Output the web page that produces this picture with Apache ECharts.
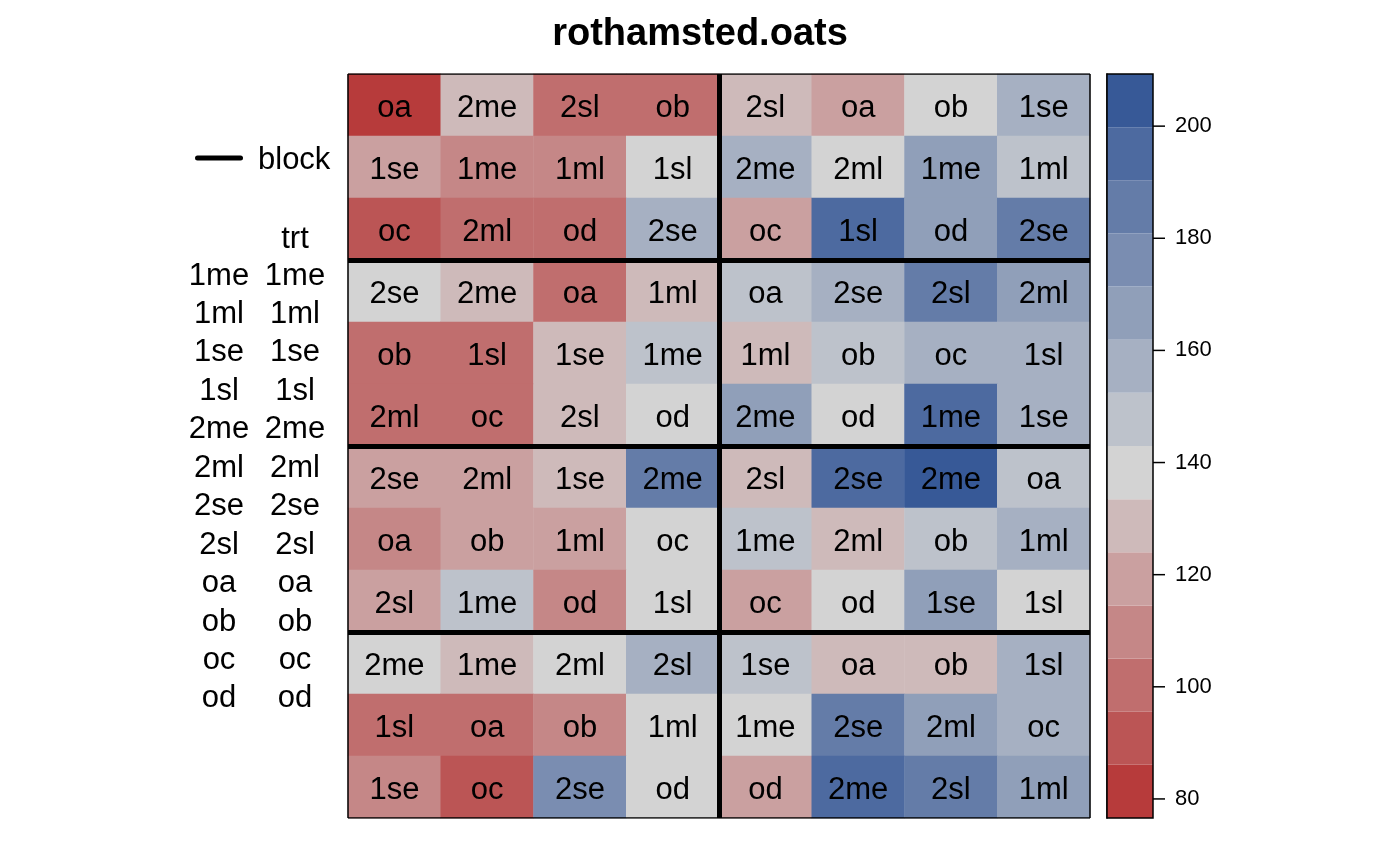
<!DOCTYPE html>
<html><head><meta charset="utf-8">
<script src="https://cdn.jsdelivr.net/npm/echarts@6/dist/echarts.min.js"></script>
<style>html,body{margin:0;padding:0;background:#fff}#c{width:1400px;height:866px}</style>
</head><body><div id="c"></div>
<script>
// ---------- data ----------
const colNames = ['1','2','3','4','5','6','7','8'];
const rowNames = ['1','2','3','4','5','6','7','8','9','10','11','12'];
const trtRows = [
  ['oa','2me','2sl','ob','2sl','oa','ob','1se'],
  ['1se','1me','1ml','1sl','2me','2ml','1me','1ml'],
  ['oc','2ml','od','2se','oc','1sl','od','2se'],
  ['2se','2me','oa','1ml','oa','2se','2sl','2ml'],
  ['ob','1sl','1se','1me','1ml','ob','oc','1sl'],
  ['2ml','oc','2sl','od','2me','od','1me','1se'],
  ['2se','2ml','1se','2me','2sl','2se','2me','oa'],
  ['oa','ob','1ml','oc','1me','2ml','ob','1ml'],
  ['2sl','1me','od','1sl','oc','od','1se','1sl'],
  ['2me','1me','2ml','2sl','1se','oa','ob','1sl'],
  ['1sl','oa','ob','1ml','1me','2se','2ml','oc'],
  ['1se','oc','2se','od','od','2me','2sl','1ml']
];
const yieldRows = [
  [78, 128, 101, 99, 130, 118, 139, 156],
  [120, 111, 108, 137, 158, 140, 167, 148],
  [90, 102, 100, 156, 121, 196, 166, 186],
  [138, 129, 100, 127, 149, 157, 185, 165],
  [101, 99, 128, 148, 130, 147, 157, 158],
  [100, 98, 129, 138, 167, 139, 194, 157],
  [119, 120, 128, 186, 129, 196, 208, 148],
  [110, 118, 121, 137, 148, 129, 147, 156],
  [120, 148, 109, 138, 119, 140, 166, 137],
  [139, 129, 138, 158, 147, 127, 128, 157],
  [101, 100, 111, 138, 139, 185, 167, 156],
  [110, 91, 176, 137, 120, 195, 186, 166]
];
const trtLevels = ['1me','1ml','1se','1sl','2me','2ml','2se','2sl','oa','ob','oc','od'];
const blockColBreaks = [4];
const blockRowBreaks = [3, 6, 9];
const keyMin = 76.6, keyMax = 209.3;
const keyTicks = [80, 100, 120, 140, 160, 180, 200];

// ---------- styles ----------
const bandColors = ['#B73B3B','#BB5555','#C06E6E','#C58787','#CAA0A0','#CEBABA','#D3D3D3',
                    '#BDC2CB','#A6B0C2','#909FB9','#7A8DB1','#647CA8','#4D6AA0','#375997'];
const FONT = '"Liberation Sans", Arial, Helvetica, sans-serif';

const nBands = bandColors.length;
const step = (keyMax - keyMin) / nBands;
const bands = bandColors.map((c, i) => [0, keyMin + i * step, keyMin + (i + 1) * step, i]);
const pieces = bands.map((b, i) => (i === nBands - 1 ? {gte: b[1], lte: b[2] + 1, color: bandColors[i]} : {gte: b[1], lt: b[2], color: bandColors[i]}));

const heatData = [];
trtRows.forEach((row, r) => row.forEach((t, c) => {
  heatData.push({name: t, value: [c, r, yieldRows[r][c]]});
}));

const nCols = colNames.length, nRows = rowNames.length;
const blockLines = [];
blockColBreaks.forEach(x => blockLines.push({coords: [[x, 0], [x, nRows]]}));
blockRowBreaks.forEach(y => blockLines.push({coords: [[0, y], [nCols, y]]}));
const borderLines = [
  {coords: [[0, 0], [nCols, 0]]}, {coords: [[0, nRows], [nCols, nRows]]},
  {coords: [[0, 0], [0, nRows]]}, {coords: [[nCols, 0], [nCols, nRows]]}
];

// legend graphics
const LY = 2;
const graphics = [
  {type: 'line', shape: {x1: 197.5, y1: 158, x2: 240.5, y2: 158}, style: {stroke: '#000', lineWidth: 5, lineCap: 'round'}},
  {type: 'text', style: {text: 'block', x: 258, y: 158 + LY, font: '31px ' + FONT, fill: '#000', textAlign: 'left', textVerticalAlign: 'middle'}},
  {type: 'text', style: {text: 'trt', x: 295, y: 237 + LY, font: '31px ' + FONT, fill: '#000', textAlign: 'center', textVerticalAlign: 'middle'}}
];
trtLevels.forEach((t, i) => {
  const y = 274 + LY + i * 38.45;
  graphics.push({type: 'text', style: {text: t, x: 219, y: y, font: '31px ' + FONT, fill: '#000', textAlign: 'center', textVerticalAlign: 'middle'}});
  graphics.push({type: 'text', style: {text: t, x: 295, y: y, font: '31px ' + FONT, fill: '#000', textAlign: 'center', textVerticalAlign: 'middle'}});
});

const chart = echarts.init(document.getElementById('c'), null, {renderer: 'canvas'});
chart.setOption({
  animation: false,
  backgroundColor: '#fff',
  title: {text: 'rothamsted.oats', left: 'center', top: 11,
          textStyle: {fontSize: 38, fontWeight: 'bold', color: '#000', fontFamily: FONT}},
  grid: [
    {left: 348, top: 74, width: 742, height: 744},
    {left: 1107, top: 74, width: 46, height: 744}
  ],
  xAxis: [
    {type: 'category', gridIndex: 0, data: colNames, show: false},
    {type: 'value', gridIndex: 0, min: 0, max: nCols, show: false},
    {type: 'value', gridIndex: 1, min: 0, max: 1, show: false}
  ],
  yAxis: [
    {type: 'category', gridIndex: 0, data: rowNames, inverse: true, show: false},
    {type: 'value', gridIndex: 0, min: 0, max: nRows, inverse: true, show: false},
    {type: 'value', gridIndex: 1, min: keyMin, max: keyMax, position: 'right',
     axisLine: {show: true, lineStyle: {color: '#000', width: 1.5}},
     axisTick: {show: false},
     axisLabel: {show: true, customValues: keyTicks, fontSize: 22, color: '#000', margin: 22, fontFamily: FONT},
     splitLine: {show: false}}
  ],
  visualMap: {type: 'piecewise', show: false, seriesIndex: 0, dimension: 2, pieces: pieces},
  graphic: graphics,
  series: [
    {type: 'heatmap', xAxisIndex: 0, yAxisIndex: 0, data: heatData, progressive: 0,
     itemStyle: {borderWidth: 0},
     label: {show: true, formatter: p => p.name, fontSize: 31, color: '#000', fontFamily: FONT, offset: [0, 3]},
     emphasis: {disabled: true}},
    {type: 'lines', coordinateSystem: 'cartesian2d', xAxisIndex: 1, yAxisIndex: 1, silent: true, z: 5,
     data: blockLines, lineStyle: {color: '#000', width: 5, opacity: 1, curveness: 0}},
    {type: 'lines', coordinateSystem: 'cartesian2d', xAxisIndex: 1, yAxisIndex: 1, silent: true, z: 6,
     data: borderLines, lineStyle: {color: '#000', width: 1.5, opacity: 1, curveness: 0}},
    {type: 'custom', xAxisIndex: 2, yAxisIndex: 2, silent: true, data: bands,
     encode: {x: 0, y: [1, 2]},
     renderItem: (params, api) => {
       const p1 = api.coord([0, api.value(2)]);
       const p2 = api.coord([1, api.value(1)]);
       return {type: 'rect', shape: {x: p1[0], y: p1[1], width: p2[0] - p1[0], height: p2[1] - p1[1]},
               style: {fill: bandColors[api.value(3)]}};
     }},
    {type: 'custom', xAxisIndex: 2, yAxisIndex: 2, silent: true, z: 7, data: [[0, keyMin, keyMax]],
     encode: {x: 0, y: [1, 2]},
     renderItem: (params, api) => {
       const p1 = api.coord([0, api.value(2)]);
       const p2 = api.coord([1, api.value(1)]);
       const children = [{type: 'rect', shape: {x: p1[0], y: p1[1], width: p2[0] - p1[0], height: p2[1] - p1[1]},
               style: {fill: 'none', stroke: '#000', lineWidth: 1.5}}];
       keyTicks.forEach(v => {
         const p = api.coord([1, v]);
         children.push({type: 'line', shape: {x1: p[0], y1: p[1], x2: p[0] + 12, y2: p[1]},
                        style: {stroke: '#000', lineWidth: 1.5}});
       });
       return {type: 'group', children: children};
     }}
  ]
});
</script></body></html>
